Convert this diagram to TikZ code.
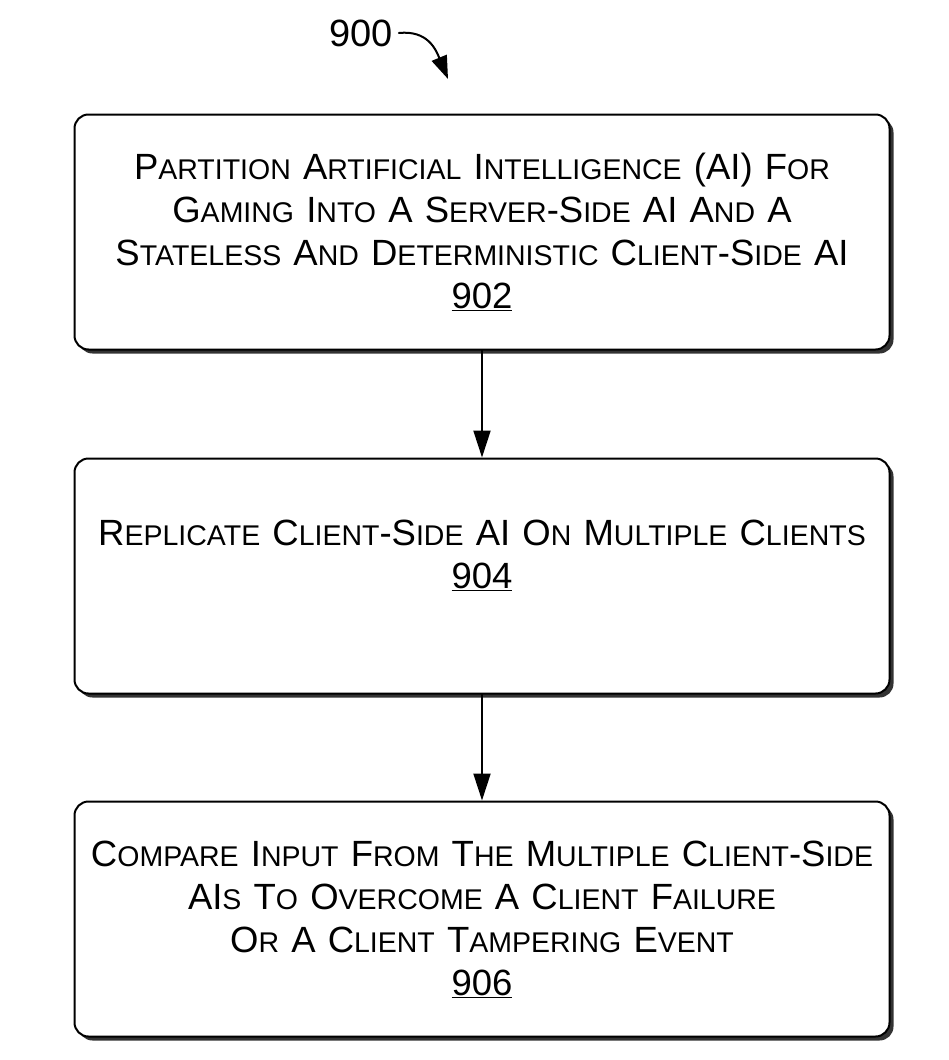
\documentclass[tikz,border=0pt]{standalone}
\usepackage{fontspec}
\setmainfont{Liberation Sans}
\usetikzlibrary{arrows.meta,positioning,shadows}

% small capitals made from smaller upper-case letters
\newcommand\smc[1]{{\fontsize{28.5}{43}\selectfont #1}}

\tikzset{
  stepbox/.style={draw, line width=2pt, rounded corners=14pt, fill=white,
    minimum width=815pt, minimum height=235pt, text width=800pt, align=center,
    font=\fontsize{36.5}{43}\selectfont,
    drop shadow={shadow xshift=4pt, shadow yshift=-4pt, fill=black!80, opacity=1}},
  flowline/.style={line width=2pt, -{Triangle[width=17pt,length=27pt]}}
}

\begin{document}
\begin{tikzpicture}[line cap=round,line join=round,x=1pt,y=-1pt]
        \useasboundingbox (0,0) rectangle (949,1060);
        % figure label
        \node[inner sep=0pt, font=\fontsize{38}{40}\selectfont] (lbl) at (361,33) {900};
        \coordinate (lbltip) at (448,79);
        \draw[line width=2pt, -{Triangle[width=16pt,length=23pt]}] ([xshift=6pt]lbl.east) .. controls (428,30) and (436,50) .. (lbltip);
        % steps
        \node[stepbox] (partition) at (482,232) {P\smc{ARTITION} A\smc{RTIFICIAL} I\smc{NTELLIGENCE} (AI) F\smc{OR}\\
            G\smc{AMING} I\smc{NTO} A S\smc{ERVER}-S\smc{IDE} AI A\smc{ND} A\\
            S\smc{TATELESS} A\smc{ND} D\smc{ETERMINISTIC} C\smc{LIENT}-S\smc{IDE} AI\\
            \underline{902}};
        \node[stepbox, below=107pt of partition] (replicate) {R\smc{EPLICATE} C\smc{LIENT}-S\smc{IDE} AI O\smc{N} M\smc{ULTIPLE} C\smc{LIENTS}\\
            \underline{904}\\ \mbox{}};
        \node[stepbox, below=106pt of replicate] (compare) {C\smc{OMPARE} I\smc{NPUT} F\smc{ROM} T\smc{HE} M\smc{ULTIPLE} C\smc{LIENT}-S\smc{IDE}\\
            AI\smc{S} T\smc{O} O\smc{VERCOME} A C\smc{LIENT} F\smc{AILURE}\\
            O\smc{R} A C\smc{LIENT} T\smc{AMPERING} E\smc{VENT}\\
            \underline{906}};
        % connectors
        \draw[flowline] (partition) -- (replicate);
        \draw[flowline] (replicate) -- (compare);
    \end{tikzpicture}
\end{document}
